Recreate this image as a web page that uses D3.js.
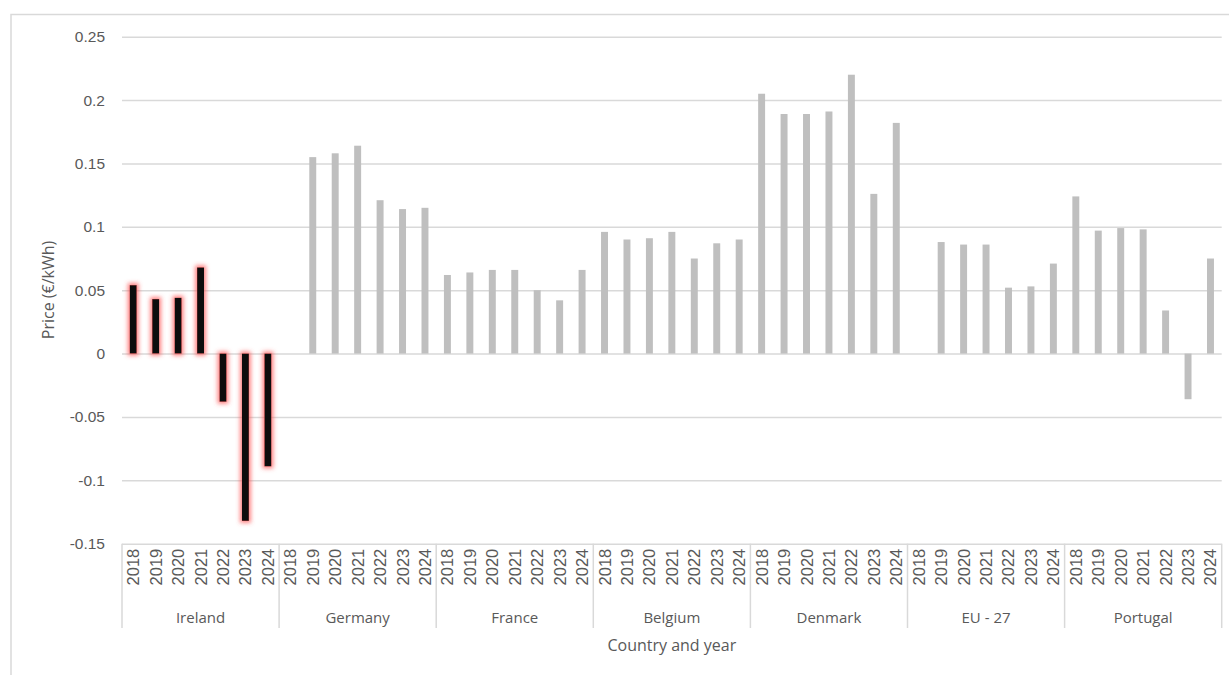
<!DOCTYPE html>
<html>
<head>
<meta charset="utf-8">
<script src="https://cdn.jsdelivr.net/npm/d3@7/dist/d3.min.js"></script>
<style>
  html, body { margin: 0; padding: 0; background: #ffffff; }
  svg { display: block; }
  .num { font-family: "Liberation Sans", Arial, sans-serif; fill: #595959; }
  .word { font-family: "Open Sans", "Liberation Sans", sans-serif; fill: #595959; }
</style>
</head>
<body>
<svg id="chart" width="1229" height="675"></svg>
<script>
// Electricity price by country and year (€/kWh)
const countries = ["Ireland", "Germany", "France", "Belgium", "Denmark", "EU - 27", "Portugal"];
const years = ["2018", "2019", "2020", "2021", "2022", "2023", "2024"];

const ireland  = [0.054, 0.043, 0.044, 0.068, -0.038, -0.132, -0.089];
const germany  = [null, 0.155, 0.158, 0.164, 0.121, 0.114, 0.115];
const france   = [0.062, 0.064, 0.066, 0.066, 0.050, 0.042, 0.066];
const belgium  = [0.096, 0.090, 0.091, 0.096, 0.075, 0.087, 0.090];
const denmark  = [0.205, 0.189, 0.189, 0.191, 0.220, 0.126, 0.182];
const eu27     = [null, 0.088, 0.086, 0.086, 0.052, 0.053, 0.071];
const portugal = [0.124, 0.097, 0.099, 0.098, 0.034, -0.036, 0.075];

const yTicks = [-0.15, -0.1, -0.05, 0, 0.05, 0.1, 0.15, 0.2, 0.25];
const yTickLabels = ["-0.15", "-0.1", "-0.05", "0", "0.05", "0.1", "0.15", "0.2", "0.25"];

const highlighted = "Ireland";

// Flatten into one row per (country, year)
const seriesByCountry = [ireland, germany, france, belgium, denmark, eu27, portugal];
const rows = [];
countries.forEach((c, ci) => {
  years.forEach((y, yi) => {
    rows.push({ country: c, year: y, key: c + "|" + y, value: seriesByCountry[ci][yi] });
  });
});

const svg = d3.select("#chart");
const plotLeft = 122, plotRight = 1221.7, plotTop = 36.7, plotBottom = 543.7;

// Chart frame (only left and top edges fall inside the view)
svg.append("rect")
  .attr("x", 11).attr("y", 14.5)
  .attr("width", 1400).attr("height", 800)
  .attr("fill", "none").attr("stroke", "#d9d9d9").attr("stroke-width", 1.5);

const y = d3.scaleLinear().domain([-0.15, 0.25]).range([plotBottom, plotTop]);
const x = d3.scaleBand()
  .domain(rows.map(d => d.key))
  .range([plotLeft, plotRight])
  .paddingInner(0.69)
  .paddingOuter(0.345);
const xGroup = d3.scaleBand().domain(countries).range([plotLeft, plotRight]).padding(0);

// Glow for the highlighted series
const defs = svg.append("defs");
const glow = defs.append("filter").attr("id", "glow")
  .attr("x", "-200%").attr("y", "-30%").attr("width", "500%").attr("height", "160%");
glow.append("feMorphology").attr("in", "SourceAlpha").attr("operator", "dilate").attr("radius", 1.5).attr("result", "fat");
glow.append("feGaussianBlur").attr("in", "fat").attr("stdDeviation", 2).attr("result", "blur");
glow.append("feFlood").attr("flood-color", "#ff4d4d").attr("flood-opacity", 0.7).attr("result", "col");
glow.append("feComposite").attr("in", "col").attr("in2", "blur").attr("operator", "in").attr("result", "shadow");
const merge = glow.append("feMerge");
merge.append("feMergeNode").attr("in", "shadow");
merge.append("feMergeNode").attr("in", "SourceGraphic");

// Horizontal gridlines via the y axis
const yAxis = d3.axisLeft(y)
  .tickValues(yTicks)
  .tickSize(-(plotRight - plotLeft))
  .tickPadding(17)
  .tickFormat((d, i) => yTickLabels[i]);
const gy = svg.append("g").attr("transform", `translate(${plotLeft},0)`).call(yAxis);
gy.select(".domain").remove();
gy.selectAll(".tick line").attr("stroke", "#d9d9d9").attr("stroke-width", 1.5);
gy.selectAll(".tick text")
  .attr("class", "num")
  .attr("font-size", 15.5)
  .attr("fill", "#595959");

// Bars
svg.append("g").selectAll("rect")
  .data(rows.filter(d => d.value !== null))
  .join("rect")
  .attr("x", d => x(d.key))
  .attr("width", x.bandwidth())
  .attr("y", d => y(Math.max(0, d.value)))
  .attr("height", d => Math.abs(y(d.value) - y(0)))
  .attr("fill", d => d.country === highlighted ? "#111111" : "#bfbfbf")
  .attr("filter", d => d.country === highlighted ? "url(#glow)" : null);

// Category axis: group separators
const bounds = countries.map(c => xGroup(c)).concat([plotRight]);
svg.append("g").selectAll("line")
  .data(bounds)
  .join("line")
  .attr("x1", d => d).attr("x2", d => d)
  .attr("y1", plotBottom).attr("y2", 628)
  .attr("stroke", "#d9d9d9").attr("stroke-width", 1.5);

// Year labels (rotated)
svg.append("g").selectAll("text")
  .data(rows)
  .join("text")
  .attr("class", "num")
  .attr("font-size", 16.5)
  .attr("text-anchor", "end")
  .attr("dominant-baseline", "central")
  .attr("transform", d => `translate(${x(d.key) + x.bandwidth() / 2},${plotBottom + 5}) rotate(-90)`)
  .text(d => d.year);

// Country labels
svg.append("g").selectAll("text")
  .data(countries)
  .join("text")
  .attr("class", "word")
  .attr("font-size", 15)
  .attr("text-anchor", "middle")
  .attr("x", d => xGroup(d) + xGroup.bandwidth() / 2)
  .attr("y", 623)
  .text(d => d);

// Axis titles
svg.append("text")
  .attr("class", "word")
  .attr("font-size", 16)
  .attr("text-anchor", "middle")
  .attr("x", (plotLeft + plotRight) / 2)
  .attr("y", 651)
  .text("Country and year");

svg.append("text")
  .attr("class", "word")
  .attr("font-size", 16)
  .attr("text-anchor", "middle")
  .attr("transform", `translate(54,290) rotate(-90)`)
  .text("Price (€/kWh)");
</script>
</body>
</html>
